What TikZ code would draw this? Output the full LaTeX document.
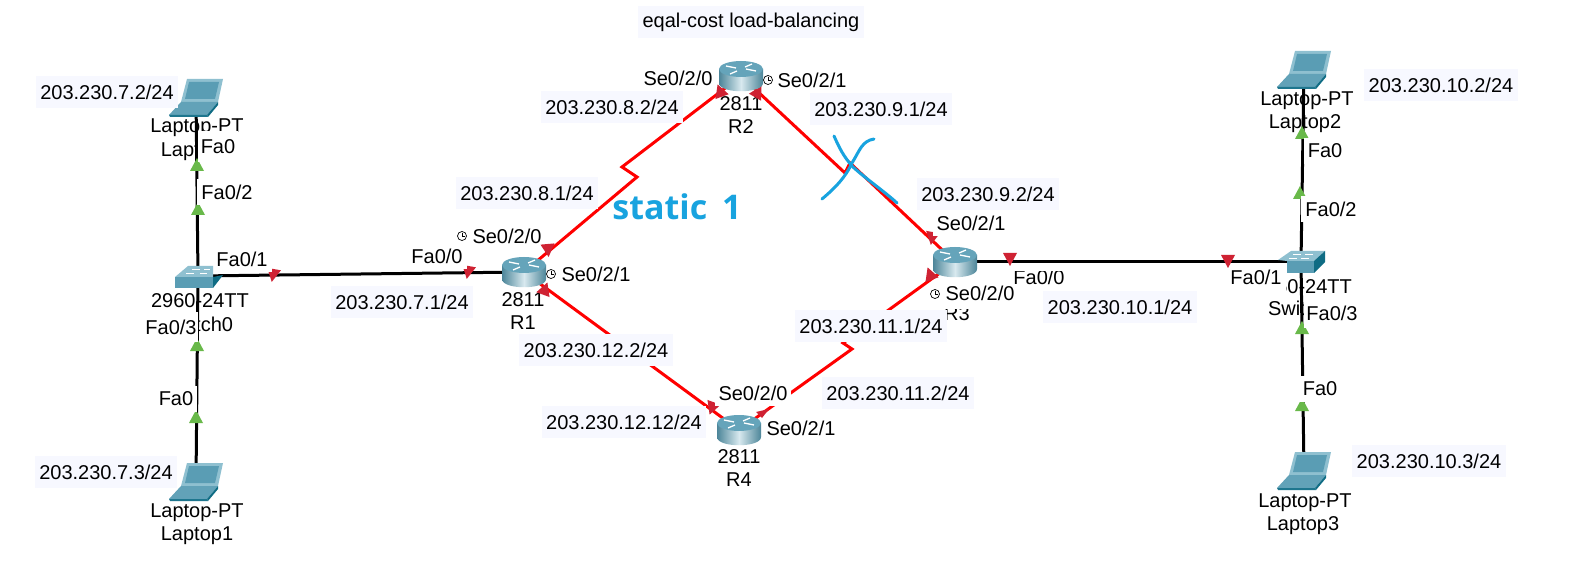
\documentclass[tikz,border=0pt]{standalone}
\usepackage{fontspec}
\setmainfont{Liberation Sans}
\newfontfamily\bluefont{Open Sans}
\definecolor{ipbg}{HTML}{F7F8FF}
\definecolor{redlink}{HTML}{FF0000}
\definecolor{redmark}{HTML}{CF2233}
\definecolor{greenmark}{HTML}{69B94A}
\definecolor{inkblue}{HTML}{18A3DF}
\definecolor{devlight}{HTML}{8FC0D0}
\definecolor{devmid}{HTML}{5A9DB4}
\definecolor{devdark}{HTML}{0F6C84}
\newcommand\mkr[4]{\fill[#1,shift={(#2,#3)},rotate=#4] (-7,-6) -- (7,-6) -- (0,7) -- cycle;}
\tikzset{
  every node/.style={font=\fontsize{20}{24}\selectfont,text=black},
  devspot/.style={inner sep=0pt,minimum width=44pt,minimum height=30pt},
  devlabel/.style={inner sep=0pt},
  iplabel/.style={fill=ipbg,inner xsep=4.5pt,inner ysep=0pt,minimum height=32pt},
  portlabel/.style={fill=white,inner xsep=4pt,inner ysep=0pt,minimum height=26pt},
  cable/.style={black,line width=3pt},
  serial/.style={redlink,line width=3pt,line join=miter},
  inkstroke/.style={inkblue,line width=3pt,line cap=round,line join=round},
  router/.pic={
    \shade[left color=devmid!85!black,right color=devmid!85!black,middle color=devlight!35!white]
      (-22,-7) -- (-22,7) .. controls (-22,18) and (22,18) .. (22,7) -- (22,-7) -- cycle;
    \fill[devmid!80!devlight] (0,-7) ellipse [x radius=22,y radius=8];
    \draw[white,line width=1.3pt] (-15,-10) -- (-5,-8) (15,-5) -- (5,-7) (-11,-2) -- (-4,-5) (11,-12) -- (4,-9);
  },
  laptop/.pic={
    \fill[devlight] (-9,-18) -- (27,-18) -- (22,5) -- (-15,5) -- cycle;
    \fill[devmid] (-7,-15) -- (23,-15) -- (19,2) -- (-11,2) -- cycle;
    \fill[devmid!85!devlight] (-15,5) -- (22,5) -- (11,18) -- (-27,18) -- cycle;
    \fill[devdark] (22,5) -- (22,8) -- (12,20) -- (11,18) -- cycle;
    \fill[devdark!80!devmid] (-27,18) -- (11,18) -- (12,20) -- (-26,20) -- cycle;
  },
  switchleft/.pic={
    \fill[devlight] (-23,1) -- (-10,-10) -- (15,-10) -- (15,1) -- cycle;
    \fill[devmid] (-23,1) -- (15,1) -- (15,12) -- (-23,12) -- cycle;
    \fill[devdark] (15,1) -- (25,-1) -- (15,12) -- cycle;
    \draw[white,line width=.8pt] (-12,-3) -- (-4,-3) (-6,-7) -- (2,-7) (2,-3) -- (9,-3) (6,-7) -- (12,-7);
  },
  switchright/.pic={
    \fill[devlight] (-23,-2) -- (-10,-11) -- (24,-11) -- (13,-1) -- (-14,-1) -- cycle;
    \fill[devmid] (-14,-1) -- (13,-1) -- (13,11) -- (-14,11) -- cycle;
    \fill[devdark] (13,-1) -- (24,-11) -- (24,0) -- (13,11) -- cycle;
    \draw[white,line width=.8pt] (-8,-8) -- (0,-8) (-12,-4) -- (-4,-4) (4,-8) -- (12,-8) (0,-4) -- (8,-4);
  },
  clockface/.pic={
    \draw[black,line width=.7pt,fill=white] (0,0) circle [radius=4.5];
    \draw[black,line width=.7pt] (0,-3) -- (0,0) -- (3,0);
  }
}
\begin{document}
\begin{tikzpicture}[x=1pt,y=-1pt]
\useasboundingbox (0,0) rectangle (1571,569);
\fill[white] (0,0) rectangle (1571,569);
% device anchors
\node[devspot] (L0) at (196,97) {};
\node[devspot] (L1) at (196,481) {};
\node[devspot] (L2) at (1304,69) {};
\node[devspot] (L3) at (1304,470) {};
\node[devspot] (S0) at (198,276) {};
\node[devspot] (S1) at (1301,262) {};
\node[devspot] (R1) at (524,272) {};
\node[devspot] (R2) at (741,76) {};
\node[devspot] (R3) at (955,262) {};
\node[devspot] (R4) at (739,430) {};
\coordinate (j12a) at (637,177);
\coordinate (j12b) at (622,167);
\coordinate (j23a) at (845,173);
\coordinate (j23b) at (850,163);
\coordinate (j34a) at (843,343);
\coordinate (j34b) at (852,349);
% device captions
\node[devlabel] (t0a) at (197,128) {Laptop-PT};
\node[devlabel] (t0b) at (197,152) {Laptop0};
\node[devlabel] (t1a) at (197,513) {Laptop-PT};
\node[devlabel] (t1b) at (197,536) {Laptop1};
\node[devlabel] (t2a) at (1307,101) {Laptop-PT};
\node[devlabel] (t2b) at (1305,124) {Laptop2};
\node[devlabel] (t3a) at (1305,503) {Laptop-PT};
\node[devlabel] (t3b) at (1303,526) {Laptop3};
\node[devlabel] (s0a) at (200,301) {2960-24TT};
\node[devlabel] (s0b) at (198,324) {Switch0};
\node[devlabel] (s1a) at (1303,287) {2960-24TT};
\node[devlabel] (s1b) at (1303,308) {Switch1};
\node[devlabel] (r1a) at (523,300) {2811};
\node[devlabel] (r1b) at (523,323) {R1};
\node[devlabel] (r2a) at (741,104) {2811};
\node[devlabel] (r2b) at (741,127) {R2};
\node[devlabel] (r3b) at (957,314) {R3};
\node[devlabel] (r4a) at (739,457) {2811};
\node[devlabel] (r4b) at (739,480) {R4};
% connectors
\draw[cable] (L0.center) -- (S0.center);
\draw[cable] (S0.center) -- (L1.center);
\draw[cable] (L2.center) -- (S1.center);
\draw[cable] (S1.center) -- (L3.center);
\draw[cable] (S0.center) -- (R1.center);
\draw[cable] (R3.center) -- (S1.center);
\draw[serial] (R1.center) -- (j12a) -- (j12b) -- (R2.center);
\draw[serial] (R2.center) -- (j23a) -- (j23b) -- (R3.center);
\draw[serial] (R3.center) -- (j34a) -- (j34b) -- (R4.center);
\draw[serial] (R1.center) -- (R4.center);
% link lights
\mkr{greenmark}{197}{165}{180}
\mkr{greenmark}{198}{209}{180}
\mkr{greenmark}{197}{345}{180}
\mkr{greenmark}{196}{417}{180}
\mkr{greenmark}{1302}{133}{180}
\mkr{greenmark}{1300}{193}{180}
\mkr{greenmark}{1302}{328}{180}
\mkr{greenmark}{1302}{405}{180}
\mkr{redmark}{273}{275}{-10}
\mkr{redmark}{468}{272}{-10}
\mkr{redmark}{1010}{259}{0}
\mkr{redmark}{1228}{261}{0}
\mkr{redmark}{548}{250}{5}
\mkr{redmark}{545}{289}{160}
\mkr{redmark}{720}{91}{200}
\mkr{redmark}{758}{92}{150}
\mkr{redmark}{932}{238}{-10}
\mkr{redmark}{930}{274}{200}
\mkr{redmark}{712}{408}{-20}
\fill[redmark] (756,412) -- (769,409) -- (762,418) -- cycle;
% port labels
\node[portlabel,minimum height=31pt,inner xsep=2.5pt] (p01) at (218,147) {Fa0};
\node[portlabel] (p02) at (227,192) {Fa0/2};
\node[portlabel] (p03) at (242,259) {Fa0/1};
\node[portlabel,minimum height=30pt,inner xsep=1pt] (p04) at (171,327) {Fa0/3};
\node[portlabel] (p05) at (176,399) {Fa0};
\node[portlabel] (p06) at (437,256) {Fa0/0};
\node[inner sep=0pt] (p07) at (507,236) {Se0/2/0};
\node[inner sep=0pt] (p08) at (596,274) {Se0/2/1};
\node[inner sep=0pt] (p09) at (678,78) {Se0/2/0};
\node[inner sep=0pt] (p10) at (812,80) {Se0/2/1};
\node[portlabel] (p11) at (971,223) {Se0/2/1};
\node[portlabel,minimum height=32pt] (p12) at (980,293) {Se0/2/0};
\node[portlabel] (p13) at (753,393) {Se0/2/0};
\node[inner sep=0pt] (p14) at (801,428) {Se0/2/1};
\node[inner sep=0pt] (p15) at (1039,277) {Fa0/0};
\fill[white] (1012,263) rectangle (1066,271);
\node[portlabel,anchor=base,text depth=11pt] (p16) at (1256,284) {Fa0/1};
\node[portlabel] (p17) at (1325,151) {Fa0};
\node[portlabel] (p18) at (1331,209) {Fa0/2};
\node[portlabel,minimum height=30pt,inner xsep=2pt] (p19) at (1332,313) {Fa0/3};
\node[portlabel] (p20) at (1320,389) {Fa0};
% device icons
\pic at (L0.center) {laptop};
\pic at (L1.center) {laptop};
\pic at (L2.center) {laptop};
\pic at (L3.center) {laptop};
\pic at (S0.center) {switchleft};
\pic at (S1.center) {switchright};
\pic at (R1.center) {router};
\pic at (R2.center) {router};
\pic at (R3.center) {router};
\pic at (R4.center) {router};
\pic at (462,236) {clockface};
\pic at (551,274) {clockface};
\pic at (768,80) {clockface};
\pic at (935,294) {clockface};
% address labels
\node[iplabel] (a01) at (751,22) {eqal-cost load-balancing};
\node[iplabel] (a02) at (107,92) {203.230.7.2/24};
\node[iplabel] (a03) at (402,302) {203.230.7.1/24};
\node[iplabel] (a04) at (106,472) {203.230.7.3/24};
\node[iplabel] (a05) at (612,107) {203.230.8.2/24};
\node[iplabel] (a06) at (527,193) {203.230.8.1/24};
\node[iplabel] (a07) at (881,109) {203.230.9.1/24};
\node[iplabel] (a08) at (988,194) {203.230.9.2/24};
\node[iplabel] (a09) at (1120,307) {203.230.10.1/24};
\node[iplabel] (a10) at (1441,85) {203.230.10.2/24};
\node[iplabel] (a11) at (1429,461) {203.230.10.3/24};
\node[iplabel] (a12) at (871,326) {203.230.11.1/24};
\node[iplabel] (a13) at (898,393) {203.230.11.2/24};
\node[iplabel] (a14) at (596,350) {203.230.12.2/24};
\node[iplabel] (a15) at (624,422) {203.230.12.12/24};
% annotations
\node[inner sep=0pt,text=inkblue,font=\bluefont\fontsize{34}{40}\selectfont\bfseries] (st) at (677,207) {static\hspace{6pt} 1};
\draw[inkstroke] (834,136) .. controls (839,147) and (843,156) .. (853,167) .. controls (865,178) and (885,192) .. (897,203);
\draw[inkstroke] (874,139) .. controls (862,141) and (860,150) .. (852,163) .. controls (845,178) and (835,188) .. (822,199);
\end{tikzpicture}
\end{document}
